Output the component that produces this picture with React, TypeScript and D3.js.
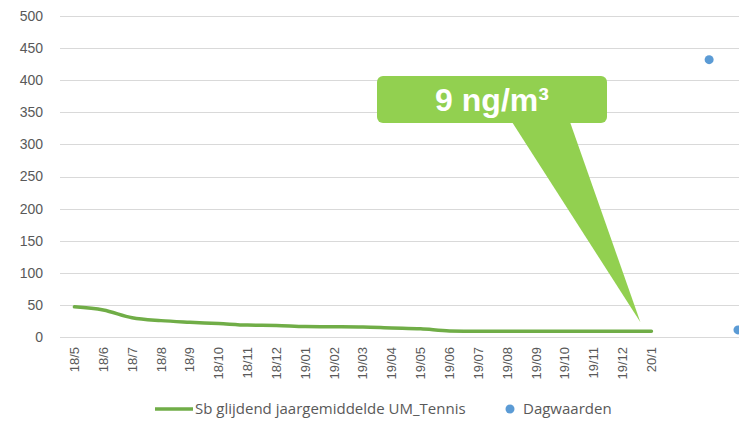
import React, { useRef, useEffect } from "react";
import * as d3 from "d3";

const WIDTH = 739;
const HEIGHT = 426;
const MARGIN = { top: 16, right: 0, bottom: 89, left: 60 };

// x categories (the empty slots after 20/1 hold the daily values)
const months = [
  "18/5", "18/6", "18/7", "18/8", "18/9", "18/10", "18/11", "18/12",
  "19/01", "19/02", "19/03", "19/04", "19/05", "19/06", "19/07", "19/08",
  "19/09", "19/10", "19/11", "19/12", "20/1", "", " ", "  ", "   ",
];

const rollingAvg = [
  47, 42, 30, 25.5, 23, 21, 18.5, 18, 16.3, 16, 15.5, 14, 12.7, 9.5, 9, 9,
  9, 9, 9, 9, 9,
];

const dailyIdx = [22, 23];
const dailyValues = [432, 11];

const yTicks = [0, 50, 100, 150, 200, 250, 300, 350, 400, 450, 500];

const LINE_COLOR = "#70ad47";
const DOT_COLOR = "#5b9bd5";
const CALLOUT_COLOR = "#92d050";
const FONT = "'Liberation Sans', Arial, sans-serif";
const LEGEND_FONT = "'Open Sans', sans-serif";

export default function App() {
  const svgRef = useRef<SVGSVGElement | null>(null);

  useEffect(() => {
    const svg = d3.select(svgRef.current);
    svg.selectAll("*").remove();

    const plotBottom = HEIGHT - MARGIN.bottom;

    const x = d3
      .scaleBand<string>()
      .domain(months)
      .range([MARGIN.left, MARGIN.left + 28.85 * months.length])
      .padding(0);
    const cx = (i: number) => (x(months[i]) as number) + x.bandwidth() / 2;

    const y = d3
      .scaleLinear()
      .domain([0, 500])
      .range([plotBottom, MARGIN.top]);

    // Grid
    svg
      .append("g")
      .selectAll("line")
      .data(yTicks)
      .enter()
      .append("line")
      .attr("x1", MARGIN.left)
      .attr("x2", WIDTH)
      .attr("y1", (d) => Math.round(y(d)) + 0.5)
      .attr("y2", (d) => Math.round(y(d)) + 0.5)
      .attr("stroke", "#d9d9d9")
      .attr("stroke-width", 1);

    // Y labels
    svg
      .append("g")
      .selectAll("text")
      .data(yTicks)
      .enter()
      .append("text")
      .attr("x", 43)
      .attr("y", (d) => y(d))
      .attr("dy", "0.35em")
      .attr("text-anchor", "end")
      .attr("font-family", FONT)
      .attr("font-size", 14)
      .attr("fill", "#595959")
      .text((d) => d);

    // X labels, rotated
    svg
      .append("g")
      .selectAll("text")
      .data(months.filter((m) => m.trim() !== ""))
      .enter()
      .append("text")
      .attr(
        "transform",
        (d) => `translate(${(x(d) as number) + x.bandwidth() / 2},${plotBottom + 10}) rotate(-90)`
      )
      .attr("dy", "0.35em")
      .attr("text-anchor", "end")
      .attr("font-family", FONT)
      .attr("font-size", 13)
      .attr("fill", "#595959")
      .text((d) => d);

    // Rolling average line
    const line = d3
      .line<number>()
      .x((_, i) => cx(i))
      .y((d) => y(d))
      .curve(d3.curveMonotoneX);
    svg
      .append("path")
      .datum(rollingAvg)
      .attr("fill", "none")
      .attr("stroke", LINE_COLOR)
      .attr("stroke-width", 3.5)
      .attr("stroke-linecap", "round")
      .attr("d", line);

    // Daily values
    svg
      .append("g")
      .selectAll("circle")
      .data(dailyValues)
      .enter()
      .append("circle")
      .attr("cx", (_, i) => cx(dailyIdx[i]))
      .attr("cy", (d) => y(d))
      .attr("r", 4.5)
      .attr("fill", DOT_COLOR);

    // Callout pointing at last rolling average
    const last = rollingAvg.length - 1;
    const tipX = cx(last) - 11;
    const tipY = y(rollingAvg[last]) - 9;
    const box = { x: 377, y: 76, w: 230, h: 47 };
    const callout = svg.append("g");
    callout
      .append("path")
      .attr(
        "d",
        `M${box.x + 135},${box.y + box.h - 1} L${tipX},${tipY} L${box.x + 193},${box.y + box.h - 1} Z`
      )
      .attr("fill", CALLOUT_COLOR);
    callout
      .append("rect")
      .attr("x", box.x)
      .attr("y", box.y)
      .attr("width", box.w)
      .attr("height", box.h)
      .attr("rx", 6)
      .attr("fill", CALLOUT_COLOR);
    callout
      .append("text")
      .attr("x", box.x + box.w / 2)
      .attr("y", box.y + box.h / 2)
      .attr("dy", "0.36em")
      .attr("text-anchor", "middle")
      .attr("font-family", FONT)
      .attr("font-weight", "bold")
      .attr("font-size", 32)
      .attr("fill", "#ffffff")
      .text("9 ng/m³");

    // Legend
    const legend = svg.append("g").attr("transform", "translate(0,409)");
    legend
      .append("line")
      .attr("x1", 155)
      .attr("x2", 193)
      .attr("stroke", LINE_COLOR)
      .attr("stroke-width", 3.5);
    legend
      .append("text")
      .attr("x", 195)
      .attr("dy", "0.35em")
      .attr("font-family", LEGEND_FONT)
      .attr("font-size", 15)
      .attr("fill", "#595959")
      .text("Sb glijdend jaargemiddelde UM_Tennis");
    legend
      .append("circle")
      .attr("cx", 510)
      .attr("r", 4.5)
      .attr("fill", DOT_COLOR);
    legend
      .append("text")
      .attr("x", 523)
      .attr("dy", "0.35em")
      .attr("font-family", LEGEND_FONT)
      .attr("font-size", 15)
      .attr("fill", "#595959")
      .text("Dagwaarden");
  }, []);

  return (
    <svg
      ref={svgRef}
      width={WIDTH}
      height={HEIGHT}
      style={{ position: "absolute", left: 0, top: 0, background: "#fff", overflow: "hidden" }}
    />
  );
}
